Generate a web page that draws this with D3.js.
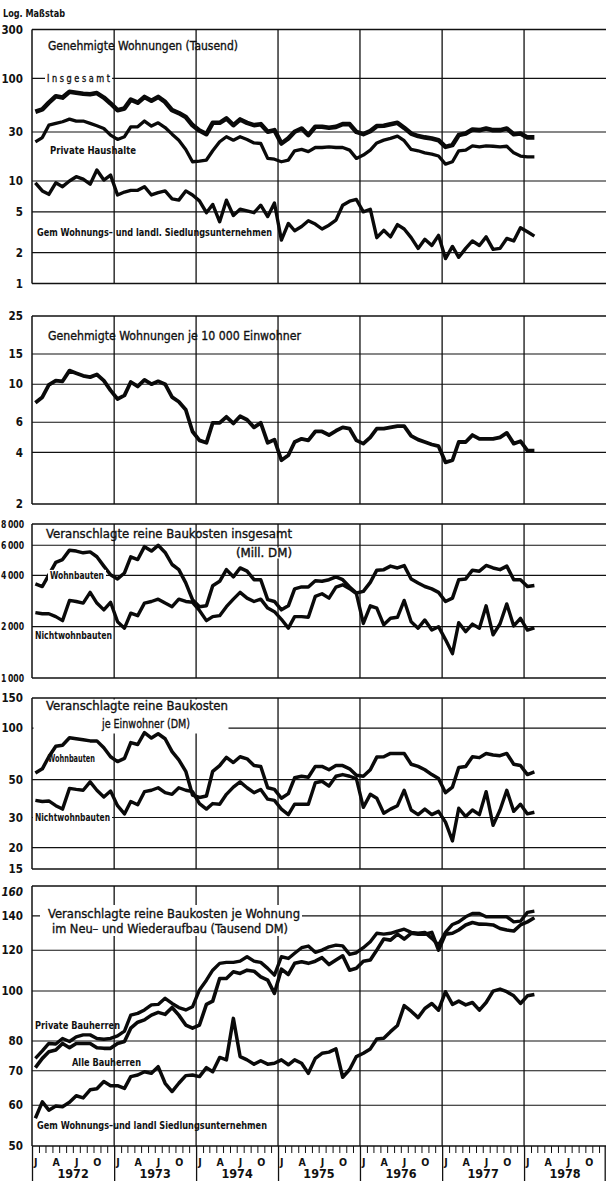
<!DOCTYPE html>
<html><head><meta charset="utf-8">
<script src="https://cdn.jsdelivr.net/npm/d3@7"></script>
<style>
body{margin:0;background:#fff;}
svg{display:block;}
text{font-family:"Liberation Sans Narrow","Arial Narrow","DejaVu Sans Condensed","Liberation Sans",sans-serif;fill:#111;}
</style></head><body>
<svg id="c" width="606" height="1181"></svg>
<script>
// ---------- DATA (monthly, Jan 1972 – Feb 1978) ----------
const startMonth = new Date(1972, 0, 1);
const endMonth = new Date(1978, 2, 1);
const years = [1972, 1973, 1974, 1975, 1976, 1977, 1978];
const quarterLabels = ["J", "A", "J", "O"];

// Panel 1: Genehmigte Wohnungen (Tausend)
const p1Insgesamt = [47.3,49.9,58,67,65,74,72.5,71,70,72,65,57, 49,51,62,58,66,60.5,66,59,49,46,42,35, 31,28.6,36.9,36.9,40.7,35,39.8,36.9,35,35.8,30.2,31.3, 23.2,26,30.2,32.5,28,33.8,33.8,33,33.7,35.8,35.8,30.1, 28.6,30.6,34.3,34.6,35.8,36.9,33,29,27.4,26.6,26,25, 21.5,22.4,28,29,31.8,31.3,32.5,31.3,31.3,32.5,28.6,29, 26.6,26.6];
const p1Private = [24.1,26.5,35,36.4,37.8,40.1,38.4,38.4,36.4,34.5,32.5,28, 25.4,27,33.7,33.7,38.4,34.3,36.9,33.2,28.6,25,20.3,15.4, 15.6,16,19.7,24.1,27,25,27,25.4,23.5,23.2,16.6,16.3, 15.4,16,19.7,20.3,19.3,21.2,21.2,21.5,21.2,21.2,20,16.6, 17.9,20,23.5,25,26,27.4,24.7,20.3,19.7,18.8,18.3,17.5, 14.6,15.4,19.7,20,22,21.5,22,21.8,21.5,21.8,18.8,17.5, 17.2,17.2];
const p1Gem = [9.6,8.0,7.4,9.6,8.8,10,11,10.4,9.3,12.8,10.2,11.4, 7.3,7.8,8.1,8.1,8.8,7.3,7.7,8.0,6.7,6.5,8.0,7.3, 6.4,4.9,5.9,4.0,6.5,4.6,5.3,5.1,4.9,5.8,4.5,6.1, 2.65,3.85,3.27,3.6,4.1,3.8,3.4,3.7,4.15,5.8,6.35,6.6, 5.0,5.3,2.8,3.3,2.85,3.75,3.4,2.8,2.2,2.7,2.35,2.95, 1.75,2.3,1.8,2.2,2.6,2.35,2.85,2.15,2.2,2.75,2.6,3.5, 3.2,2.9];

// Panel 2: Genehmigte Wohnungen je 10 000 Einwohner
const p2PerCapita = [7.8,8.4,9.9,10.5,10.4,12,11.6,11.2,11,11.4,10.5,9.2, 8.2,8.6,10.3,9.7,10.6,10,10.4,10,8.4,7.9,7.1,5.3, 4.7,4.55,5.95,5.95,6.45,5.9,6.5,6.2,5.6,5.95,4.55,4.75, 3.6,3.85,4.6,4.8,4.7,5.3,5.3,5.05,5.35,5.6,5.5,4.7, 4.5,4.9,5.5,5.5,5.6,5.7,5.7,5.0,4.75,4.6,4.45,4.35, 3.5,3.6,4.6,4.6,5.05,4.8,4.8,4.8,4.9,5.2,4.5,4.65, 4.1,4.1];

// Panel 3: Veranschlagte reine Baukosten insgesamt (Mill. DM)
const p3Wohn = [3570,3440,4030,4770,4950,5620,5550,5420,5490,5140,4530,4030, 3810,4130,5140,4950,5890,5550,6000,5450,4630,4320,3610,2880, 2620,2650,3480,3690,4320,3920,4420,4230,3770,3770,2880,2810, 2510,2650,3330,3420,3420,3720,3690,3770,3920,3770,3420,3150, 3220,3640,4290,4320,4530,4420,4560,3810,3610,3440,3330,3180, 2810,2940,3770,3810,4290,4230,4570,4420,4320,4530,3770,3770, 3440,3490];
const p3Nicht = [2420,2380,2380,2290,2170,2850,2810,2750,3180,2750,2510,2780, 2140,1960,2400,2320,2750,2810,2900,2750,2620,2900,2810,2780, 2490,2170,2290,2320,2620,2900,3180,2940,2810,2900,2570,2450, 2210,1960,2290,2290,2270,3010,3120,2940,3410,3520,3340,3120, 2090,2650,2570,2050,2240,2270,2850,2140,1960,2190,1910,2000, 1680,1390,2110,1870,2070,1960,2650,1790,2080,2720,2020,2240, 1910,1970];

// Panel 4: Veranschlagte reine Baukosten je Einwohner (DM)
const p4Wohn = [54.6,57.8,68,78.4,79.4,87.9,86.7,85.6,84.2,84.2,76.7,68, 63.7,66.6,82.3,80.2,94,87.5,92.7,86.7,72.8,65.2,55.9,40.6, 39.3,40.1,55.9,60.4,67.5,62.9,68,66.1,60.4,59.7,44.8,43.8, 38.9,41.4,51.2,52.3,51.6,59.7,59.7,57.1,60.4,60.4,57.8,53, 52.3,57.1,67.7,68,71.1,71.1,71.1,61.5,59.7,57.1,53.5,50.7, 41.9,45.2,58.9,59.7,68,67.2,71.1,69.7,69,71.1,61.5,60.4, 53.5,55.4];
const p4Nicht = [37.8,37.2,37.5,35.2,33.6,44.4,43.8,43.3,48.5,43.3,39.6,42.9, 35.2,31.5,37.2,35.6,42.5,43.3,44.8,41.9,41,44.8,43.3,42.5, 36.2,33.6,36.2,35.9,41,45.2,48.5,44.8,41.9,43.8,38.4,37.8, 33.6,31.2,35.9,35.9,35.9,47.9,48.9,45.8,52.3,53.5,52.3,50.7, 34.4,41,38.9,31.8,33.6,35.2,43.3,33.2,31.2,33.6,31.2,32.6, 28.2,21.9,34,30.4,33.2,31.2,42.5,27,33.2,43.3,32.6,35.9, 31.5,32.2];

// Panel 5: Veranschlagte reine Baukosten je Wohnung (Tausend DM)
const p5Private = [74,76.5,79.1,78.9,80.9,79.8,81.5,82.2,82.2,80.9,80.6,80.9, 81.8,83.6,89.8,90.5,91.9,94,94.2,96.8,94.6,92.9,91.9,93.2, 100.5,105,109.8,113.2,113.7,113.7,114.3,116.6,114.3,113.7,110.7,107.4, 116.6,115.7,118.4,121.4,122.3,118.9,120.1,121.9,122.8,122.4,117.8,118.7, 121.4,124.7,129.5,129,129.5,130.8,131.9,130,129.5,130,126.6,122.8, 130,134.7,136.3,139.4,141.5,141.5,139.4,139.4,139.4,139.4,136.3,136.7, 142.2,143];
const p5Alle = [71,74,76.2,76.8,79.1,77.6,79.1,79.1,79.1,77.6,77.4,77.4, 79.1,79.8,84.7,87,87.9,89.8,90.9,90.1,92.9,89.8,85.9,84.7, 85.9,94.2,95.6,105.8,105.8,109,108.2,109.8,109.3,106.6,105,99, 110.3,107.7,113.2,114,113.2,114.3,116.1,112.6,114.9,117.1,109.8,110.7, 114.3,114.9,120.1,126.2,125.6,129,126.2,129.5,129,129,130,120.1, 129,129.5,131.4,134.4,135.9,134.9,134.8,134.4,132.3,131.4,130.8,134.4, 136.3,138.8];
const p5Gem = [56.6,60.9,58.7,59.8,59.6,60.8,62.6,62,64.3,64.6,66.7,65.5, 65.5,64.7,68.2,68.7,69.7,69.2,71.3,66.2,63.8,66.2,68.5,68.7, 68.2,71,69.7,74.3,73.5,88.5,74.6,73.5,72.1,73.2,72.1,72.4, 73.5,71.9,73.5,72.4,69.2,74,75.7,76.1,77.2,68,70.4,74.6, 75.7,77.2,80.7,81,83.4,85.7,93.7,91.4,88.8,92.5,94.6,91.8, 99.7,94.2,95.6,94,95,91.8,95,100,100.9,99.7,97.9,94.6, 97.9,98.5];

// tick values / labels
const p1Ticks = [300,100,30,10,5,2,1];
const p2Ticks = [25,15,10,6,4,2];
const p3Ticks = [8000,6000,4000,2000,1000];
const p3TickLabels = ["8\u2009000","6\u2009000","4\u2009000","2\u2009000","1\u2009000"];
const p4Ticks = [150,100,50,30,20,15];
const p5Ticks = [160,140,120,100,80,70,60,50];
const p1Grid = [100,30,10,5,2];
const p2Grid = [15,10,6,4];
const p3Grid = [6000,4000,2000];
const p4Grid = [100,50,30,20];
const p5Grid = [140,120,100,80,70,60];

// ---------- LAYOUT ----------
const svg = d3.select("#c");
const X0 = 32, X1 = 606;
const x = d3.scaleTime().domain([new Date(1972,0,1), new Date(1979,0,1)]).range([X0, X1]);
const months = d3.timeMonths(startMonth, endMonth).map(d => new Date(d.getFullYear(), d.getMonth(), 16));
const yearStarts = d3.timeYears(new Date(1973,0,1), new Date(1979,0,1));

const panels = [
  {dom:[1,300], rng:[283.5,29.5], grid:p1Grid, ticks:p1Ticks, labels:p1Ticks.map(String)},
  {dom:[2,25], rng:[504,316], grid:p2Grid, ticks:p2Ticks, labels:p2Ticks.map(String)},
  {dom:[1000,8000], rng:[678,524], grid:p3Grid, ticks:p3Ticks, labels:p3TickLabels, fit:23},
  {dom:[15,150], rng:[869,698], grid:p4Grid, ticks:p4Ticks, labels:p4Ticks.map(String)},
  {dom:[50,160], rng:[1146,886], grid:p5Grid, ticks:p5Ticks, labels:p5Ticks.map(String)}
];
panels.forEach(p => p.y = d3.scaleLog().domain(p.dom).range(p.rng));

const gridG = svg.append("g");
const lineG = svg.append("g");
const textG = svg.append("g");

panels.forEach((p, pi) => {
  const top = p.rng[1], bot = p.rng[0];
  gridG.selectAll(null).data(p.grid).join("line")
    .attr("x1", X0).attr("x2", X1)
    .attr("y1", d => p.y(d)).attr("y2", d => p.y(d))
    .attr("stroke", "#111").attr("stroke-width", 1.1);
  gridG.selectAll(null).data(yearStarts).join("line")
    .attr("x1", d => x(d)).attr("x2", d => x(d))
    .attr("y1", top).attr("y2", bot)
    .attr("stroke", "#111").attr("stroke-width", 1.3);
  gridG.append("line").attr("x1", X0).attr("x2", X1).attr("y1", top).attr("y2", top).attr("stroke","#111").attr("stroke-width",1.4);
  gridG.append("line").attr("x1", X0).attr("x2", X1).attr("y1", bot).attr("y2", bot).attr("stroke","#111").attr("stroke-width",1.6);
  gridG.append("line").attr("x1", X0).attr("x2", X0).attr("y1", top).attr("y2", bot).attr("stroke","#111").attr("stroke-width",1.5);
  const t = textG.selectAll(null).data(p.ticks).join("text")
    .attr("x", p.fit ? 1 : 23).attr("y", (d,i) => p.y(d) + (pi === 4 && i === 0 ? 6 : 0))
    .attr("dy", "0.36em").attr("text-anchor", p.fit ? "start" : "end")
    .attr("font-size", p.fit ? 10.5 : 11.5).attr("font-weight", "bold")
    .attr("font-style", (d,i) => (pi === 4 && i === 0) ? "italic" : "normal")
    .text((d,i) => p.labels[i]);
  if (p.fit) t.attr("textLength", p.fit).attr("lengthAdjust", "spacingAndGlyphs");
});

// ---------- SERIES ----------
const series = [
  {p:0, v:p1Insgesamt, w:4.6},
  {p:0, v:p1Private, w:3.3},
  {p:0, v:p1Gem, w:3.4},
  {p:1, v:p2PerCapita, w:3.8},
  {p:2, v:p3Wohn, w:3.5},
  {p:2, v:p3Nicht, w:3.4},
  {p:3, v:p4Wohn, w:3.5},
  {p:3, v:p4Nicht, w:3.4},
  {p:4, v:p5Private, w:3.4},
  {p:4, v:p5Alle, w:3.6},
  {p:4, v:p5Gem, w:3.5}
];
series.forEach(s => {
  const y = panels[s.p].y;
  const line = d3.line().x((d,i) => x(months[i])).y(d => y(d));
  lineG.append("path").attr("d", line(s.v))
    .attr("fill", "none").attr("stroke", "#0a0a0a")
    .attr("stroke-width", s.w).attr("stroke-linejoin", "round").attr("stroke-linecap", "butt");
});

// ---------- X AXIS (bottom) ----------
const axisY = panels[4].rng[0];
const allMonths = d3.timeMonths(new Date(1972,0,1), new Date(1979,0,1));
gridG.selectAll(null).data(allMonths).join("line")
  .attr("x1", d => x(d) + 0.5).attr("x2", d => x(d) + 0.5)
  .attr("y1", axisY).attr("y2", d => d.getMonth() === 0 ? 1181 : axisY + 7)
  .attr("stroke", "#111").attr("stroke-width", d => d.getMonth() === 0 ? 1.3 : 1);
gridG.append("line").attr("x1", X1-0.8).attr("x2", X1-0.8).attr("y1", axisY).attr("y2", 1181).attr("stroke","#111").attr("stroke-width",1.3);
textG.selectAll(null).data(allMonths.filter(d => d.getMonth() % 3 === 0)).join("text")
  .attr("x", d => x(d) + 3.8).attr("y", 1162).attr("dy", "0.36em")
  .attr("text-anchor", "middle").attr("font-size", 10.5).attr("font-weight", "bold")
  .text(d => quarterLabels[d.getMonth() / 3]);
textG.selectAll(null).data(years).join("text")
  .attr("x", d => (x(new Date(d,0,1)) + x(new Date(d+1,0,1))) / 2).attr("y", 1173.5).attr("dy", "0.36em")
  .attr("text-anchor", "middle").attr("font-size", 12.5).attr("font-weight", "bold")
  .text(d => d);

// ---------- TEXT LABELS ----------
function label(t, x0, yMid, size, weight, len, bg, heavy) {
  const el = textG.append("text").attr("x", x0).attr("y", yMid).attr("dy", "0.36em")
    .attr("font-size", size).attr("font-weight", weight).text(t);
  if (heavy) el.attr("stroke", "#111").attr("stroke-width", 0.35);
  if (len) el.attr("textLength", len).attr("lengthAdjust", "spacingAndGlyphs");
  if (bg) {
    const b = el.node().getBBox();
    textG.insert("rect", () => el.node())
      .attr("x", b.x - 2).attr("y", yMid - 5.5).attr("width", b.width + 4).attr("height", 11)
      .attr("fill", "#fff");
  }
  return el;
}
function whiteBox(x0, y0, w, h) {
  gridG.append("rect").attr("x", x0).attr("y", y0).attr("width", w).attr("height", h).attr("fill", "#fff");
}

label("Log. Maßstab", 3, 13, 10, "bold", 62);

label("Genehmigte Wohnungen (Tausend)", 48, 45, 13, "normal", 190, false, true);
label("I n s g e s a m t", 47, 78.5, 11, "normal", 63, true, true);
label("Private Haushalte", 50, 150, 10.5, "bold", 86);
label("Gem Wohnungs– und landl. Siedlungsunternehmen", 37, 232.5, 10.5, "bold", 235);

label("Genehmigte Wohnungen je 10 000 Einwohner", 48, 335, 13, "normal", 253, false, true);

label("Veranschlagte reine Baukosten insgesamt", 46, 533.5, 13, "normal", 246, false, true);
label("(Mill. DM)", 236, 553, 12, "normal", 56, true, true);
label("Wohnbauten", 50, 575.4, 10, "bold", 54, true);
label("Nichtwohnbauten", 35, 635, 10, "bold", 77);

whiteBox(33.5, 699.5, 195, 34);
label("Veranschlagte reine Baukosten", 46, 705, 13, "normal", 182, false, true);
label("je Einwohner (DM)", 102, 723, 13, "normal", 88, false, true);
label("Wohnbauten", 48, 758, 10, "bold", 47);
label("Nichtwohnbauten", 35, 817.5, 10, "bold", 75, true);

whiteBox(40, 905, 262, 31);
label("Veranschlagte reine Baukosten je Wohnung", 48, 913, 13, "normal", 252, false, true);
label("im Neu– und Wiederaufbau (Tausend DM)", 52, 928, 13, "normal", 236, false, true);
label("Private Bauherren", 35, 1025, 10.5, "bold", 85);
label("Alle Bauherren", 72, 1062, 10.5, "bold", 69);
label("Gem Wohnungs–und landl Siedlungsunternehmen", 37, 1125, 10.5, "bold", 230);
</script>
</body></html>
